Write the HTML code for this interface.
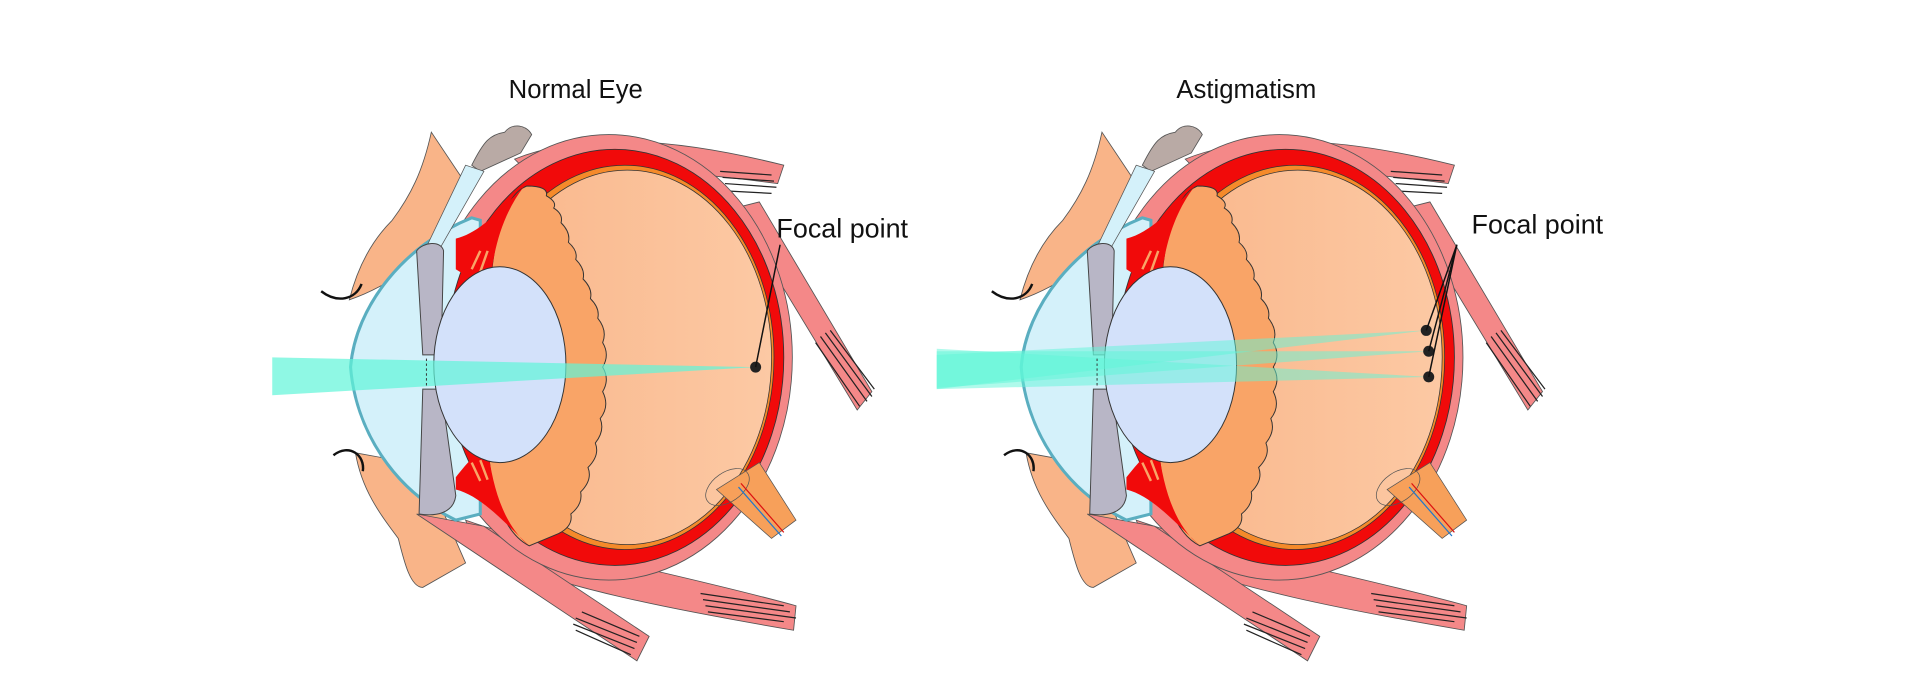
<!DOCTYPE html>
<html><head><meta charset="utf-8"><style>
html,body{margin:0;padding:0;background:#fff;width:1920px;height:700px;overflow:hidden}
svg{display:block}
text{font-family:"Liberation Sans",Arial,sans-serif;fill:#111}
</style></head><body>
<svg width="1920" height="700" viewBox="0 0 1568 572" xmlns="http://www.w3.org/2000/svg">
<defs>
<linearGradient id="vit" x1="0" x2="1" y1="0" y2="0">
<stop offset="0" stop-color="#f9b68a"/><stop offset="1" stop-color="#fcc9a4"/></linearGradient>
<g id="eye">
 <!-- eyelids -->
 <path d="M352,108 C345,140 335,160 320,180 C300,200 290,225 285,245 C300,240 320,230 340,215 L380,150 Z" fill="#f9b488" stroke="#555" stroke-width="0.7"/>
 <path d="M290,370 C295,400 310,420 325,440 C330,460 335,480 345,480 L380,460 L345,380 Z" fill="#f9b488" stroke="#555" stroke-width="0.7"/>
 <path d="M262,238 C275,248 290,245 295,232" fill="none" stroke="#111" stroke-width="2"/>
 <path d="M272,372 C285,362 298,372 296,385" fill="none" stroke="#111" stroke-width="2"/>
 <!-- fat -->
 <path d="M385,135 C395,115 400,110 412,108 C418,100 430,102 434,110 L425,125 L392,140 Z" fill="#b9aaa5" stroke="#555" stroke-width="0.7"/>
 <!-- muscles -->
 <path d="M420,130 C470,110 540,110 640,135 L635,150 C560,140 500,135 440,150 Z" fill="#f48888" stroke="#555" stroke-width="0.7"/>
 <path d="M600,170 L620,165 L712,320 L700,335 Z" fill="#f48888" stroke="#555" stroke-width="0.7"/>
 <path d="M380,425 C450,450 560,470 650,495 L648,515 C560,500 450,480 390,450 Z" fill="#f48888" stroke="#555" stroke-width="0.7"/>
 <path d="M340,420 L395,430 L530,520 L520,540 Z" fill="#f48888" stroke="#555" stroke-width="0.7"/>
 <g stroke="#222" stroke-width="1">
  <path d="M588,140 L630,143 M590,145 L632,148 M592,150 L634,153 M592,156 L630,158"/>
  <path d="M670,275 L708,328 M674,272 L712,324 M678,270 L714,318 M666,280 L702,332"/>
  <path d="M572,485 L640,495 M574,490 L645,500 M576,495 L650,505 M578,500 L640,508"/>
  <path d="M470,505 L520,525 M468,510 L518,530 M470,515 L515,535 M475,500 L522,520"/>
 </g>
 <!-- sclera -->
 <ellipse cx="497" cy="292" rx="150" ry="182" fill="#f48888" stroke="#555" stroke-width="0.7"/>
 <!-- cornea -->
 <path d="M385,178 C330,200 290,250 286,300 C290,350 320,400 372,425 L392,420 L392,180 Z" fill="#d4f1fa" stroke="#5aaec0" stroke-width="2.5"/>
 <path d="M380,135 L345,208 L355,210 L395,140 Z" fill="#d4f1fa" stroke="#555" stroke-width="0.6"/>
 <!-- choroid red -->
 <ellipse cx="502" cy="292" rx="138" ry="170" fill="#f10a0a" stroke="#333" stroke-width="0.7"/>
 <ellipse cx="510" cy="292" rx="122" ry="157" fill="#f58a2a" stroke="#333" stroke-width="0.6"/>
 <!-- vitreous -->
 <ellipse cx="512" cy="292" rx="118" ry="153" fill="url(#vit)" stroke="#333" stroke-width="0.6"/>
 <!-- orange anterior band -->
 <path d="M430,152 C410,160 402,200 400,240 L398,360 C400,400 410,435 432,446 L456,436 Q468,430 466,420 Q476,412 474,402 Q484,392 480,382 Q490,372 486,362 Q494,352 490,342 Q498,332 492,320 Q498,310 492,300 Q498,290 492,280 Q496,270 488,260 Q490,252 482,244 Q484,236 476,228 Q478,220 470,212 Q472,205 464,198 Q466,190 458,182 Q460,175 452,170 Q455,165 446,160 Q448,152 430,152 Z" fill="#f9a467" stroke="#333" stroke-width="0.8"/>
 <!-- ciliary red shapes -->
 <path d="M372,195 C392,190 410,170 428,152 C410,175 402,205 400,235 C390,232 380,225 372,220 Z" fill="#f10a0a"/>
 <path d="M372,400 C392,405 410,425 432,446 C412,430 402,400 398,365 C388,370 380,380 372,390 Z" fill="#f10a0a"/>
 <g stroke="#f9a467" stroke-width="2">
  <path d="M385,220 L392,205 M392,222 L398,205 M385,378 L392,393 M392,376 L398,392"/>
 </g>
 <!-- iris -->
 <path d="M340,205 C345,198 360,196 362,205 L360,290 L345,290 Z" fill="#b8b6c6" stroke="#444" stroke-width="0.8"/>
 <path d="M345,318 L360,318 L372,405 C370,420 355,422 342,420 Z" fill="#b8b6c6" stroke="#444" stroke-width="0.8"/>
 <!-- lens -->
 <ellipse cx="408" cy="298" rx="54" ry="80" fill="#d3e1fa" stroke="#333" stroke-width="0.8"/>
 <!-- optic nerve -->
 <path d="M585,400 L620,378 L650,425 L630,440 Z" fill="#f7a05a" stroke="#555" stroke-width="0.6"/>
 <ellipse cx="594" cy="398" rx="20" ry="12" fill="none" stroke="#555" stroke-width="0.6" transform="rotate(-35 594 398)"/>
 <path d="M605,395 L640,435" stroke="#d11" stroke-width="1"/><path d="M603,398 L638,438" stroke="#27c" stroke-width="1"/>
</g>
</defs>

<text x="470" y="80" font-size="21" text-anchor="middle">Normal Eye</text>
<text x="1018" y="80" font-size="21" text-anchor="middle">Astigmatism</text>

<use href="#eye"/>
<use href="#eye" transform="translate(548,0)"/>

<!-- left beam -->
<polygon points="222,292 222,323 617,300" fill="#5ff5d8" opacity="0.7"/>
<line x1="348" y1="293" x2="348" y2="316" stroke="#333" stroke-dasharray="2,2" stroke-width="0.8"/>
<circle cx="617" cy="300" r="4.5" fill="#222"/>
<line x1="617" y1="300" x2="637" y2="200" stroke="#111" stroke-width="1.2"/>
<text x="634" y="194" font-size="22">Focal point</text>

<!-- right beams -->
<polygon points="765,290 765,318 1165,270" fill="#5ff5d8" opacity="0.5"/>
<polygon points="765,287 765,317 1167,287" fill="#5ff5d8" opacity="0.5"/>
<polygon points="765,285 765,318 1167,308" fill="#5ff5d8" opacity="0.5"/>
<line x1="896" y1="293" x2="896" y2="316" stroke="#333" stroke-dasharray="2,2" stroke-width="0.8"/>
<circle cx="1165" cy="270" r="4.5" fill="#222"/>
<circle cx="1167" cy="287" r="4.5" fill="#222"/>
<circle cx="1167" cy="308" r="4.5" fill="#222"/>
<g stroke="#111" stroke-width="1.2">
<line x1="1165" y1="270" x2="1190" y2="200"/>
<line x1="1167" y1="287" x2="1190" y2="200"/>
<line x1="1167" y1="308" x2="1190" y2="200"/>
</g>
<text x="1202" y="191" font-size="22">Focal point</text>
</svg>
</body></html>
